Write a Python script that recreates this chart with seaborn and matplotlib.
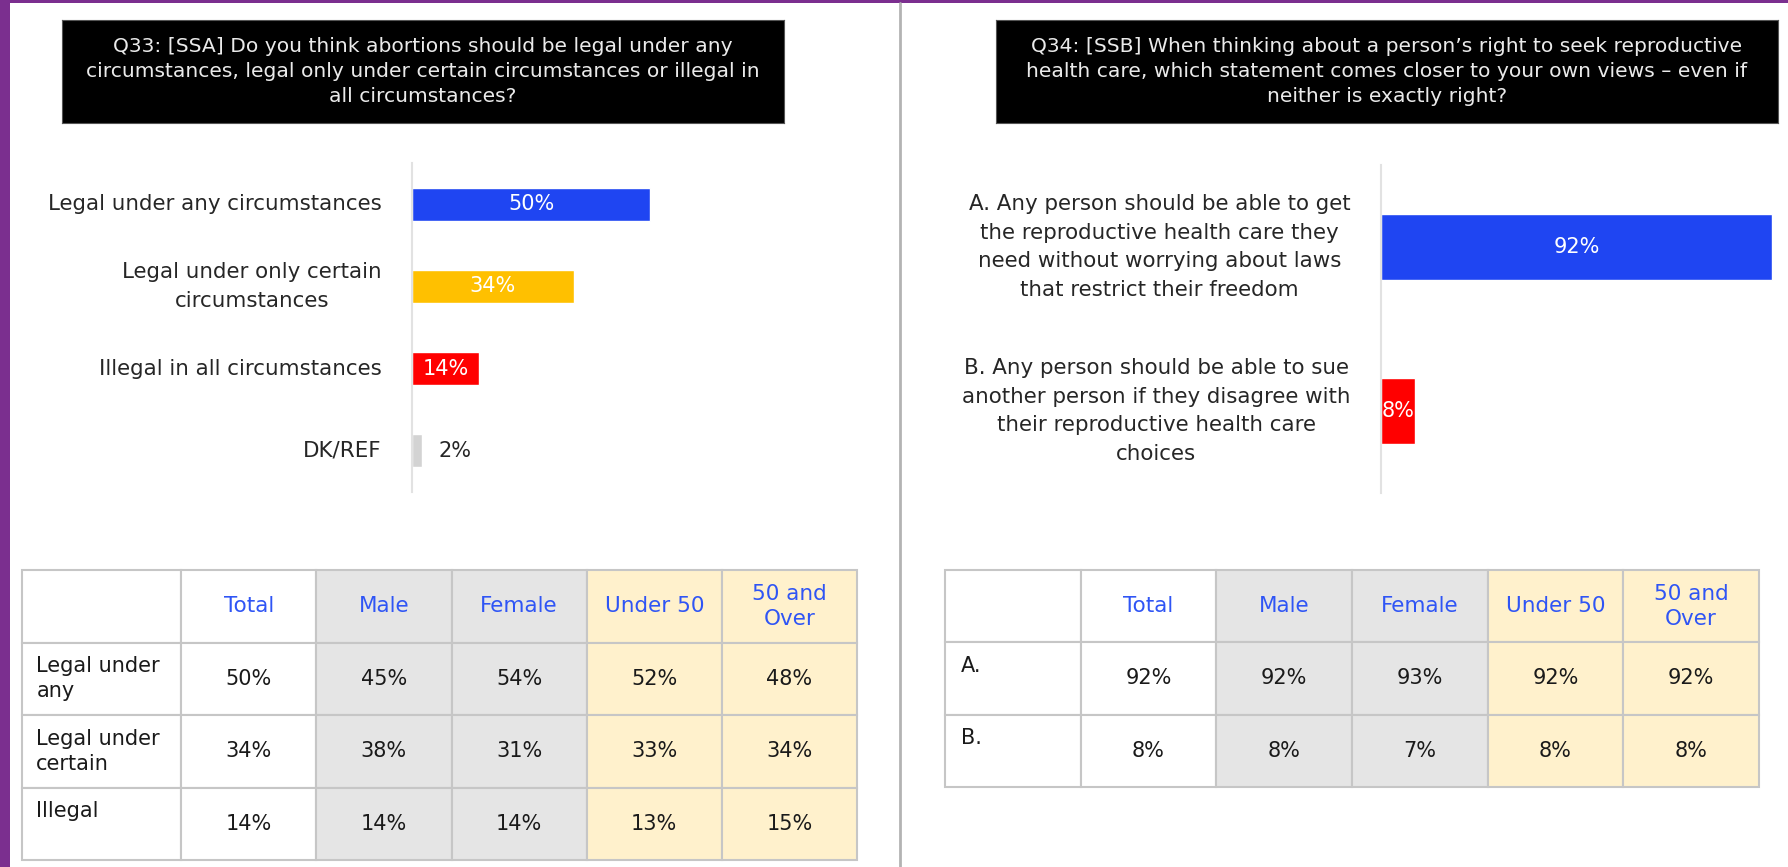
import numpy as np
import matplotlib
matplotlib.use('Agg')
import matplotlib.pyplot as plt
import seaborn as sns
from matplotlib.patches import Rectangle
from matplotlib.lines import Line2D

# Q33 data
q33_title = ("Q33: [SSA] Do you think abortions should be legal under any\n"
             "circumstances, legal only under certain circumstances or illegal in\n"
             "all circumstances?")
q33_labels = ["Legal under any circumstances", "Legal under only certain\ncircumstances",
              "Illegal in all circumstances", "DK/REF"]
q33_values = [50, 34, 14, 2]
q33_colors = ["#1f45f2", "#ffc000", "#ff0000", "#d3d3d3"]

# Q34 data
q34_title = ("Q34: [SSB] When thinking about a person\u2019s right to seek reproductive\n"
             "health care, which statement comes closer to your own views \u2013 even if\n"
             "neither is exactly right?")
q34_labels = ["A. Any person should be able to get\nthe reproductive health care they\n"
              "need without worrying about laws\nthat restrict their freedom",
              "B. Any person should be able to sue\nanother person if they disagree with\n"
              "their reproductive health care\nchoices"]
q34_values = [92, 8]
q34_colors = ["#1f45f2", "#ff0000"]

# crosstab tables
table_cols = ["Total", "Male", "Female", "Under 50", "50 and\nOver"]
col_fills = ["white", "#e5e5e5", "#e5e5e5", "#fff1cc", "#fff1cc"]
q33_rows = ["Legal under\nany", "Legal under\ncertain", "Illegal"]
q33_table = [["50%", "45%", "54%", "52%", "48%"],
             ["34%", "38%", "31%", "33%", "34%"],
             ["14%", "14%", "14%", "13%", "15%"]]
q34_rows = ["A.", "B."]
q34_table = [["92%", "92%", "93%", "92%", "92%"],
             ["8%", "8%", "7%", "8%", "8%"]]

sns.set_style('white')
plt.rcParams['font.family'] = ['DejaVu Sans']

W, H = 1788, 867
fig = plt.figure(figsize=(W / 100, H / 100), dpi=100, facecolor='#7b2f8f')


def px(x0, y0, x1, y1):
    return [x0 / W, 1 - y1 / H, (x1 - x0) / W, (y1 - y0) / H]


# white slide + divider
fig.patches.append(Rectangle((10 / W, 0), 1, 1 - 3 / H, transform=fig.transFigure,
                             facecolor='white', edgecolor='none', zorder=-5))
fig.add_artist(Line2D([900 / W, 900 / W], [0, 1 - 3 / H], color='#b3b3b3', lw=2, zorder=-4))


def title_box(rect, text):
    ax = fig.add_axes(px(*rect))
    ax.set_facecolor('black')
    ax.set_xticks([])
    ax.set_yticks([])
    for s in ax.spines.values():
        s.set_color('#555555')
    ax.text(0.5, 0.5, text, ha='center', va='center', color='#eaeaea',
            fontsize=14.6, linespacing=1.42, transform=ax.transAxes)


def bar_panel(rect, labels, values, colors, xmax, linesp):
    ax = fig.add_axes(px(*rect))
    ax.patch.set_alpha(0)
    sns.barplot(x=values, y=labels, hue=labels, palette=colors, orient='h',
                width=0.4, legend=False, ax=ax, saturation=1)
    n = len(labels)
    ax.set_xlim(0, xmax)
    ax.set_ylim(n - 0.5, -0.5)
    ax.set_xlabel('')
    ax.set_ylabel('')
    ax.set_xticks([])
    sns.despine(ax=ax, top=True, right=True, bottom=True)
    ax.spines['left'].set_color('#e2e2e2')
    ax.spines['left'].set_linewidth(1.5)
    ax.set_yticks(np.arange(-0.5, n), minor=True)
    ax.tick_params(axis='y', which='minor', length=5, color='#e2e2e2', width=1.5)
    ax.tick_params(axis='y', which='major', length=0, pad=22)
    for t in ax.get_yticklabels():
        t.set_fontsize(15.4)
        t.set_color('#262626')
        t.set_multialignment('center')
        t.set_linespacing(linesp)
        t.set_va('center')
    for cont, v in zip(ax.containers, values):
        if v < 4:
            ax.bar_label(cont, labels=[f"{v}%"], padding=12, color='#262626', fontsize=15)
        else:
            ax.bar_label(cont, labels=[f"{v}%"], label_type='center', color='white', fontsize=15)
    return ax


def crosstab(rect, rows, cells, first_w, pad):
    ax = fig.add_axes(px(*rect))
    ax.axis('off')
    text = [[""] + table_cols] + [[r if '\n' in r else r + '\n'] + c for r, c in zip(rows, cells)]
    colours = [["white"] + col_fills for _ in text]
    widths = [first_w] + [1.0] * len(table_cols)
    tbl = ax.table(cellText=text, cellColours=colours, colWidths=widths,
                   cellLoc='center', bbox=[0, 0, 1, 1])
    tbl.auto_set_font_size(False)
    tbl.set_fontsize(15)
    for (r, c), cell in tbl.get_celld().items():
        cell.set_edgecolor('#c6c6c6')
        cell.set_linewidth(1.5)
        t = cell.get_text()
        t.set_linespacing(1.3)
        if r == 0:
            t.set_color('#2f55f5')
            t.set_fontsize(15.5)
        elif c == 0:
            t.set_ha('left')
            cell.PAD = pad
            t.set_color('#1a1a1a')
        else:
            t.set_color('#1a1a1a')
    return ax


title_box((62, 20, 784, 123), q33_title)
title_box((996, 20, 1778, 123), q34_title)

bar_panel((412, 163, 412 + 476, 492), q33_labels, q33_values, q33_colors, 100, 1.6)
bar_panel((1381, 165, 1381 + 404, 493), q34_labels, q34_values, q34_colors, 95, 1.55)

crosstab((22, 570, 857, 860), q33_rows, q33_table, 159 / 135, 0.09)
crosstab((945, 570, 1759, 787), q34_rows, q34_table, 1.0, 0.12)

fig.savefig('out.png', dpi=100, facecolor=fig.get_facecolor())
